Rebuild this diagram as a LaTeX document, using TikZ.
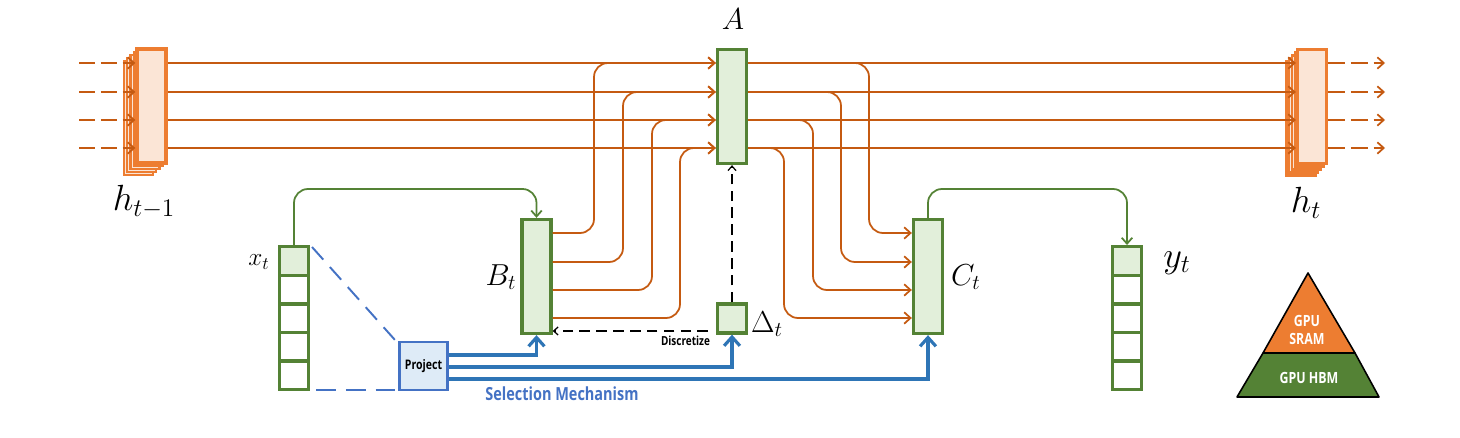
\documentclass[tikz,border=0pt]{standalone}
\usepackage{fontspec}
\newfontfamily\boxfont[FakeStretch=0.8]{Open Sans}
\usetikzlibrary{arrows.meta}
\definecolor{wirecol}{HTML}{C55A11}
\definecolor{hidcol}{HTML}{ED7D31}
\definecolor{hidfill}{HTML}{FBE5D6}
\definecolor{grncol}{HTML}{548235}
\definecolor{grnfill}{HTML}{E2EFDA}
\definecolor{selcol}{HTML}{2E75B6}
\definecolor{prjcol}{HTML}{4472C4}
\definecolor{prjfill}{HTML}{DEEBF7}

\begin{document}
\begin{tikzpicture}[x=0.02cm, y=-0.02cm,
		hid/.style={rectangle, draw=hidcol, fill=hidfill, line width=1.9pt, minimum width=0.58cm, minimum height=2.28cm, inner sep=0pt},
		hidback/.style={hid, line width=1.2pt},
		blk/.style={rectangle, draw=grncol, fill=grnfill, line width=1.9pt, minimum width=0.58cm, minimum height=2.28cm, inner sep=0pt},
		cell/.style={rectangle, draw=grncol, line width=1.9pt, minimum width=0.58cm, minimum height=0.572cm, inner sep=0pt},
		wire/.style={draw=wirecol, line width=1pt, rounded corners=0.28cm, -{Straight Barb[length=3.6pt,width=6.5pt]}},
		loose/.style={wire, dash pattern=on 9pt off 3.4pt},
		grn/.style={draw=grncol, line width=1pt, rounded corners=0.28cm, -{Straight Barb[length=3.4pt,width=6pt]}},
		sel/.style={draw=selcol, line width=1.8pt, -{Straight Barb[length=5pt,width=9pt]}},
		prj/.style={draw=prjcol, line width=1.1pt, dash pattern=on 9.6pt off 5.7pt},
		dsc/.style={draw=black, line width=0.7pt, dash pattern=on 6pt off 3.6pt, -{Straight Barb[length=2.6pt,width=4.6pt]}},
		lbl/.style={inner sep=0pt, font=\fontsize{17}{20}\selectfont},
		txt/.style={inner sep=0pt, align=center, font=\boxfont\bfseries}]
		\useasboundingbox (0,0) rectangle (1460,438);

		% rows of the state and of the block ports
		\foreach \y [count=\i] in {63,92,120,148} {
			\coordinate (L\i) at (79,\y);
			\coordinate (R\i) at (1385,\y);
		}
		\foreach \y [count=\i] in {233,262,290,318} \coordinate (S\i) at (0,\y);
		\coordinate (G) at (0,189);

		% stacked states
		\foreach \d in {4,3,2,1} {
			\node[hidback] (Hp\d) at (151.5-3.25*\d,106+3*\d) {};
			\node[hidback] (Hn\d) at (1312-2.75*\d,106.5+3*\d) {};
		}
		\node[hid] (Hp) at (151.5,106) {};
		\node[hid] (Hn) at (1312,106.5) {};

		\node[blk] (A) at (732,106.5) {};
		\node[blk] (Bt) at (536.5,276.5) {};
		\node[blk] (Ct) at (928,276.5) {};
		\node[blk, minimum height=0.58cm] (Dt) at (732,318.5) {};

		% input and output cells
		\foreach \i in {0,...,4} {
			\node[cell] (X\i) at (294,261+28.6*\i) {};
			\node[cell] (Y\i) at (1127,261+28.6*\i) {};
		}
		\node[cell, fill=grnfill] (X0) at (294,261) {};
		\node[cell, fill=grnfill] (Y0) at (1127,261) {};

		\node[rectangle, draw=prjcol, fill=prjfill, line width=1.6pt, minimum width=0.96cm, minimum height=0.96cm, inner sep=0pt, txt, font=\boxfont\bfseries\fontsize{7.5}{9}\selectfont] (Prj) at (423.5,366) {Project};

		% orange wires
		\foreach \i in {1,2,3,4} {
			\draw[loose] (L\i) -- (Hp.west |- L\i);
			\draw[wire] (Hp.east |- L\i) -- (A.west |- L\i);
			\draw[wire] (A.east |- L\i) -- (Hn.west |- L\i);
			\draw[loose, dash pattern=on 9.5pt off 3.4pt] (Hn.east |- R\i) -- (R\i);
		}
		\foreach \i/\x in {1/594,2/623,3/652,4/680}
			\draw[wire] (Bt.east |- S\i) -- (\x,0 |- S\i) |- (A.west |- L\i);
		\foreach \i/\x in {1/869,2/841,3/813,4/784}
			\draw[wire] (A.east |- L\i) -- (\x,0 |- L\i) |- (Ct.west |- S\i);

		% green wires
		\draw[grn] (X0.north) |- (Bt.north |- G) -- (Bt.north);
		\draw[grn] (Ct.north) |- (Y0.north |- G) -- (Y0.north);

		% selection
		\coordinate (P1) at (0,355);
		\coordinate (P2) at (0,367);
		\coordinate (P3) at (0,379);
		\draw[sel] (Prj.east |- P1) -| (Bt.south);
		\draw[sel] (Prj.east |- P2) -| (Dt.south);
		\draw[sel] (Prj.east |- P3) -| (Ct.south);
		\coordinate (Q1) at (312,247);
		\coordinate (Q2) at (395,340);
		\coordinate (Q3) at (316,390);
		\coordinate (Q4) at (395,390);
		\draw[prj] (Q1) -- (Q2);
		\draw[prj, dash pattern=on 11.3pt off 5.7pt] (Q3) -- (Q4);

		% discretize
		\coordinate (D) at (708,331);
		\draw[dsc] (Dt.north) -- (A.south);
		\draw[dsc] (D) -- (Bt.east |- D);
		\node[txt, font=\boxfont\bfseries\fontsize{7.1}{8}\selectfont] (Dsc) at (685.5,341) {Discretize};
		\node[txt, text=prjcol, font=\boxfont\bfseries\fontsize{10.3}{12}\selectfont] (Sel) at (562,394) {Selection Mechanism};

		% labels
		\node[lbl] (lA) at (733,19) {$A$};
		\node[lbl] (lBt) at (501,277) {$B_t$};
		\node[lbl] (lCt) at (966,277) {$C_t$};
		\node[lbl] (lDt) at (767,324) {$\Delta_t$};
		\node[lbl, font=\fontsize{14}{16}\selectfont] (lX) at (259,262) {$x_t$};
		\node[lbl, font=\fontsize{20}{22}\selectfont] (lY) at (1177,263) {$y_t$};
		\node[lbl, font=\fontsize{20}{22}\selectfont] (lHp) at (144,202) {$h_{t-1}$};
		\node[lbl, font=\fontsize{20}{22}\selectfont] (lHn) at (1306,203) {$h_t$};

		% memory pyramid
		\filldraw[fill=hidcol, draw=black, line width=0.9pt, line join=round] (1308,273) -- (1355,353) -- (1263,353) -- cycle;
		\filldraw[fill=grncol, draw=black, line width=0.9pt, line join=round] (1263,353) -- (1355,353) -- (1379,397) -- (1237,397) -- cycle;
		\node[txt, text=white, font=\boxfont\bfseries\fontsize{8.8}{10.2}\selectfont] (Sram) at (1307,330) {GPU\\SRAM};
		\node[txt, text=white, font=\boxfont\bfseries\fontsize{8.8}{10}\selectfont] (Hbm) at (1309,378) {GPU HBM};
	\end{tikzpicture}
\end{document}
